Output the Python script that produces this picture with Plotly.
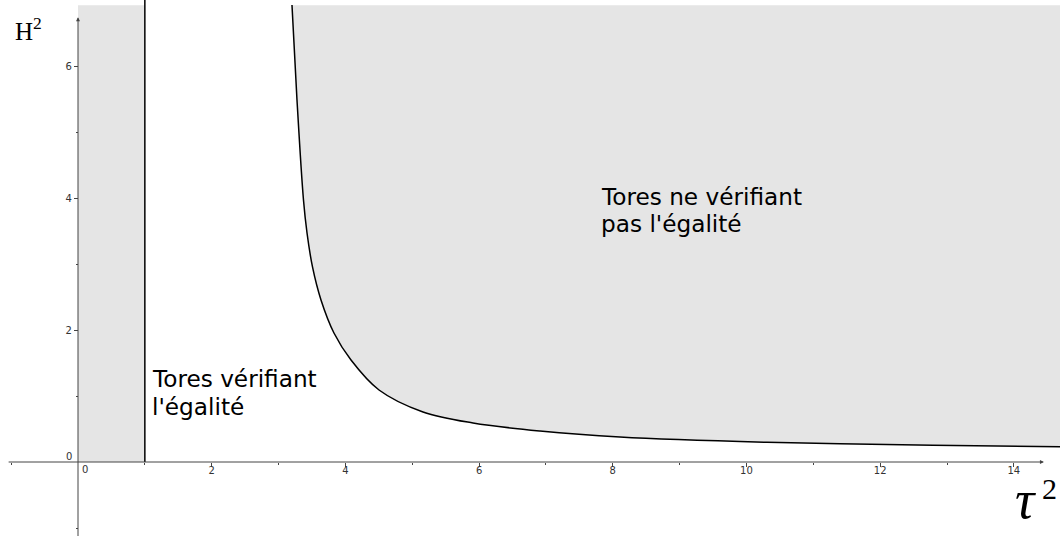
import plotly.graph_objects as go

# ---- data ----
curve_x = [3.201, 3.276, 3.373, 3.426, 3.508, 3.635, 3.829, 4.084, 4.503, 5.161, 5.909, 6.911, 8.108, 10.307, 12.790, 14.690]
curve_y = [6.924, 5.485, 3.970, 3.470, 2.955, 2.455, 1.955, 1.545, 1.091, 0.758, 0.591, 0.470, 0.379, 0.299, 0.253, 0.232]
top_y = 6.92
band_x = [0, 1, 1, 0]
band_y = [0, 0, top_y, top_y]
boundary_x = [1, 1]
boundary_y = [0, 7.2]
x_major = [2, 4, 6, 8, 10, 12, 14]
x_minor = [-1, 1, 3, 5, 7, 9, 11, 13]
y_major = [2, 4, 6]
y_minor = [-1, 1, 3, 5]
label_left = ["Tores vérifiant", "l'égalité"]
label_right = ["Tores ne vérifiant", "pas l'égalité"]

XMIN, XMAX = -1.1668, 14.690
YMIN, YMAX = -1.1212, 7.0
GRAY = "#e5e5e5"
AX = "#444444"

fig = go.Figure()
# shaded left band
fig.add_trace(go.Scatter(x=band_x, y=band_y, fill="toself", fillcolor=GRAY,
                         mode="lines", line=dict(width=0), hoverinfo="skip"))
# top boundary for the region above the curve
fig.add_trace(go.Scatter(x=[curve_x[0], curve_x[-1]], y=[top_y, top_y], mode="lines",
                         line=dict(width=0), hoverinfo="skip"))
# curve with fill above
fig.add_trace(go.Scatter(x=curve_x, y=curve_y, mode="lines", fill="tonexty", fillcolor=GRAY,
                         line=dict(color="black", width=1.5, shape="spline", smoothing=1.0)))
# vertical boundary line
fig.add_trace(go.Scatter(x=boundary_x, y=boundary_y, mode="lines",
                         line=dict(color="black", width=1.5)))

tickfont = dict(family="DejaVu Sans", size=10, color="#333333")
fig.update_layout(
    width=1060, height=536, margin=dict(l=0, r=0, t=0, b=0),
    paper_bgcolor="white", plot_bgcolor="white", showlegend=False,
    xaxis=dict(range=[XMIN, XMAX], anchor="free", position=(0 - YMIN) / (YMAX - YMIN),
               showgrid=False, zeroline=False, showline=False,
               tickmode="array", tickvals=x_major, ticks="outside", ticklen=4,
               ticklabelstandoff=-5,
               tickcolor=AX, tickfont=tickfont, automargin=False,
               minor=dict(tickmode="array", tickvals=x_minor, ticks="outside", ticklen=2, tickcolor=AX)),
    yaxis=dict(range=[YMIN, YMAX], anchor="free", position=(0 - XMIN) / (XMAX - XMIN),
               showgrid=False, zeroline=False, showline=False,
               tickmode="array", tickvals=y_major, ticks="outside", ticklen=4,
               tickcolor=AX, tickfont=tickfont, automargin=False,
               minor=dict(tickmode="array", tickvals=y_minor, ticks="outside", ticklen=2, tickcolor=AX)),
)

# axes with arrows
fig.add_annotation(x=14.45, y=0, ax=-1.06, ay=0, xref="x", yref="y", axref="x", ayref="y",
                   text="", showarrow=True, arrowhead=2, arrowsize=0.8, arrowwidth=1, arrowcolor=AX)
fig.add_annotation(x=0, y=6.74, ax=0, ay=YMIN - 0.1, xref="x", yref="y", axref="x", ayref="y",
                   text="", showarrow=True, arrowhead=2, arrowsize=0.8, arrowwidth=1, arrowcolor=AX)

# zero labels
fig.add_annotation(x=0.1, y=-0.12, xref="x", yref="y", text="0", showarrow=False,
                   xanchor="center", yanchor="middle", font=tickfont)
fig.add_annotation(x=-0.13, y=0.09, xref="x", yref="y", text="0", showarrow=False,
                   xanchor="center", yanchor="middle", font=tickfont)

# axis titles
fig.add_annotation(x=-0.97, y=6.84, xref="x", yref="y", text="H<sup>2</sup>", showarrow=False,
                   xanchor="left", yanchor="top", font=dict(family="Liberation Serif", size=25, color="black"))
fig.add_annotation(x=14.36, y=-0.58, xref="x", yref="y", text="<i>τ</i>", showarrow=False,
                   xanchor="right", yanchor="middle", yshift=0,
                   font=dict(family="Liberation Serif", size=54, color="black"))
fig.add_annotation(x=14.39, y=-0.394, xref="x", yref="y", text="2", showarrow=False,
                   xanchor="left", yanchor="middle", font=dict(family="Liberation Serif", size=30, color="black"))

# region labels (one annotation per line)
txtfont = dict(family="DejaVu Sans", size=23.2, color="black")
for txt, yy in zip(label_left, [1.503, 1.079]):
    fig.add_annotation(x=1.08, y=yy, xref="x", yref="y", text=txt, showarrow=False,
                       xanchor="left", yanchor="top", align="left", font=txtfont)
for txt, yy in zip(label_right, [4.265, 3.842]):
    fig.add_annotation(x=7.79, y=yy, xref="x", yref="y", text=txt, showarrow=False,
                       xanchor="left", yanchor="top", align="left", font=txtfont)

fig.write_html("out.html", config={"displayModeBar": False},
               post_script="document.body.style.margin='0px';document.body.style.overflow='hidden';")
